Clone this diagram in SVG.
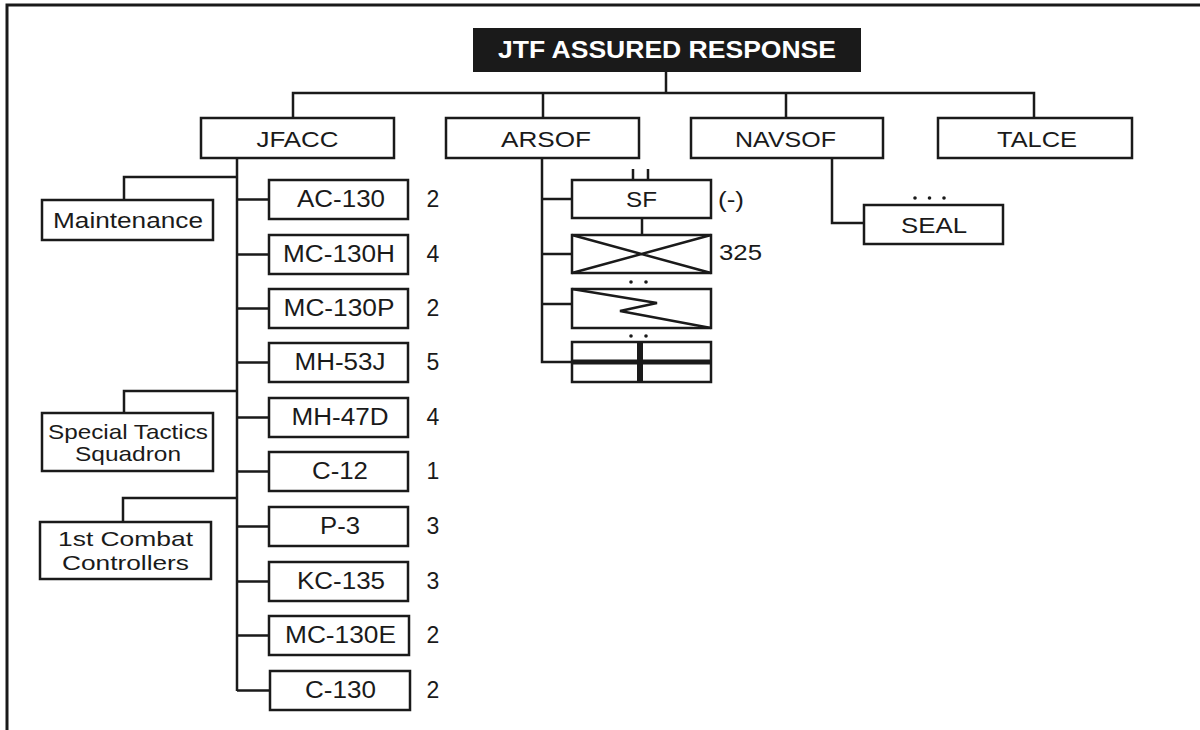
<svg xmlns="http://www.w3.org/2000/svg" width="1200" height="730" viewBox="0 0 1200 730">
<style>
.bx{fill:#fff;stroke:#1a1a1a;stroke-width:2.5}
.ln{fill:none;stroke:#1a1a1a;stroke-width:2.5}
.t{font-family:"Liberation Sans",Arial,sans-serif;font-size:22px;fill:#1a1a1a;text-anchor:middle}
.r{font-family:"Liberation Sans",Arial,sans-serif;font-size:23px;fill:#1a1a1a;text-anchor:middle}
.s{font-family:"Liberation Sans",Arial,sans-serif;font-size:21px;fill:#1a1a1a;text-anchor:middle}
.hd{font-family:"Liberation Sans",Arial,sans-serif;font-size:23px;font-weight:bold;fill:#fff;text-anchor:middle}
.dot{fill:#1a1a1a}
</style>
<rect width="1200" height="730" fill="#fff"/>
<path d="M7,730 V5 H1200" fill="none" stroke="#1a1a1a" stroke-width="3"/>

<g id="connectors">
<path class="ln" d="M666,71 V93 M293,118 V93 H1034 V118 M543,93 V118 M786,93 V118"/>
<path class="ln" d="M237,158 V691"/>
<path class="ln" d="M237,177 H124 V200 M237,391 H124 V413 M237,498 H123 V522"/>
<path class="ln" d="M237,199.5 H269 M237,254.5 H269 M237,308.5 H269 M237,362.5 H269 M237,417.5 H269 M237,471.5 H269 M237,526.5 H269 M237,581.5 H269 M237,635.5 H269 M237,690.5 H269"/>
<path class="ln" d="M542,158 V362 H572 M542,199 H572 M542,254 H572 M542,304 H572"/>
<path class="ln" d="M642,218 V235"/>
<path class="ln" d="M832,158 V223 H864"/>
</g>

<g id="jtf">
<rect x="474" y="29" width="386" height="42" fill="#1a1a1a" stroke="#1a1a1a" stroke-width="2"/>
<text class="hd" x="667" y="58" textLength="338" lengthAdjust="spacingAndGlyphs">JTF ASSURED RESPONSE</text>
</g>
<g id="jfacc"><rect class="bx" x="201" y="118" width="193" height="40"/><text class="t" x="297.5" y="147" textLength="82" lengthAdjust="spacingAndGlyphs">JFACC</text></g>
<g id="arsof"><rect class="bx" x="446" y="118" width="193" height="40"/><text class="t" x="546" y="147" textLength="90" lengthAdjust="spacingAndGlyphs">ARSOF</text></g>
<g id="navsof"><rect class="bx" x="691" y="118" width="192" height="40"/><text class="t" x="785.5" y="147" textLength="101" lengthAdjust="spacingAndGlyphs">NAVSOF</text></g>
<g id="talce"><rect class="bx" x="938" y="118" width="194" height="40"/><text class="t" x="1037" y="147" textLength="80" lengthAdjust="spacingAndGlyphs">TALCE</text></g>

<g id="maintenance"><rect class="bx" x="42" y="200" width="171" height="40"/><text class="t" x="128" y="228" textLength="150" lengthAdjust="spacingAndGlyphs">Maintenance</text></g>
<g id="sts"><rect class="bx" x="42" y="413" width="171" height="58"/><text class="s" x="128" y="439" textLength="160" lengthAdjust="spacingAndGlyphs">Special Tactics</text><text class="s" x="128" y="461" textLength="106" lengthAdjust="spacingAndGlyphs">Squadron</text></g>
<g id="cc"><rect class="bx" x="40" y="522" width="171" height="57"/><text class="s" x="125.5" y="546" textLength="135" lengthAdjust="spacingAndGlyphs">1st Combat</text><text class="s" x="125.5" y="570" textLength="127" lengthAdjust="spacingAndGlyphs">Controllers</text></g>

<g id="ac130"><rect class="bx" x="269" y="180" width="139" height="39"/><text class="r" x="341" y="207" textLength="88" lengthAdjust="spacingAndGlyphs">AC-130</text><text class="r" x="433" y="207">2</text></g>
<g id="mc130h"><rect class="bx" x="269" y="235" width="139" height="39"/><text class="r" x="339" y="262" textLength="112" lengthAdjust="spacingAndGlyphs">MC-130H</text><text class="r" x="433" y="262">4</text></g>
<g id="mc130p"><rect class="bx" x="269" y="289" width="139" height="39"/><text class="r" x="339" y="316" textLength="111" lengthAdjust="spacingAndGlyphs">MC-130P</text><text class="r" x="433" y="316">2</text></g>
<g id="mh53j"><rect class="bx" x="269" y="343" width="139" height="39"/><text class="r" x="340" y="370" textLength="91" lengthAdjust="spacingAndGlyphs">MH-53J</text><text class="r" x="433" y="370">5</text></g>
<g id="mh47d"><rect class="bx" x="269" y="398" width="139" height="39"/><text class="r" x="340" y="425" textLength="97" lengthAdjust="spacingAndGlyphs">MH-47D</text><text class="r" x="433" y="425">4</text></g>
<g id="c12"><rect class="bx" x="269" y="452" width="139" height="39"/><text class="r" x="340" y="479" textLength="56" lengthAdjust="spacingAndGlyphs">C-12</text><text class="r" x="433" y="479">1</text></g>
<g id="p3"><rect class="bx" x="269" y="507" width="139" height="39"/><text class="r" x="340" y="534" textLength="40" lengthAdjust="spacingAndGlyphs">P-3</text><text class="r" x="433" y="534">3</text></g>
<g id="kc135"><rect class="bx" x="269" y="562" width="139" height="39"/><text class="r" x="341" y="589" textLength="88" lengthAdjust="spacingAndGlyphs">KC-135</text><text class="r" x="433" y="589">3</text></g>
<g id="mc130e"><rect class="bx" x="269" y="616" width="140" height="39"/><text class="r" x="340.5" y="643" textLength="111" lengthAdjust="spacingAndGlyphs">MC-130E</text><text class="r" x="433" y="643">2</text></g>
<g id="c130"><rect class="bx" x="270" y="671" width="140" height="39"/><text class="r" x="340.5" y="698" textLength="71" lengthAdjust="spacingAndGlyphs">C-130</text><text class="r" x="433" y="698">2</text></g>

<g id="sf">
<path class="ln" d="M633,169 V180 M648,169 V180"/>
<rect class="bx" x="572" y="180" width="139" height="38"/>
<text class="t" x="641.5" y="207" textLength="31" lengthAdjust="spacingAndGlyphs">SF</text>
<text class="t" x="731" y="207" textLength="26" lengthAdjust="spacingAndGlyphs">(-)</text>
</g>
<g id="inf325">
<rect class="bx" x="572" y="235" width="139" height="38"/>
<path class="ln" d="M572,235 L711,273 M711,235 L572,273"/>
<text class="t" x="740.5" y="260" textLength="43" lengthAdjust="spacingAndGlyphs">325</text>
</g>
<g id="aviation">
<circle class="dot" cx="631" cy="282" r="1.8"/><circle class="dot" cx="646" cy="282" r="1.8"/>
<rect class="bx" x="572" y="289" width="139" height="39"/>
<path class="ln" d="M572,289 L657,303 L620,311 L711,328"/>
</g>
<g id="support">
<circle class="dot" cx="631" cy="336" r="1.8"/><circle class="dot" cx="646" cy="336" r="1.8"/>
<rect class="bx" x="572" y="342" width="139" height="40"/>
<path d="M572,362 H711" stroke="#1a1a1a" stroke-width="5"/>
<path d="M640,342 V382" stroke="#1a1a1a" stroke-width="6"/>
</g>

<g id="seal">
<circle class="dot" cx="915" cy="198" r="1.8"/><circle class="dot" cx="929.5" cy="198" r="1.8"/><circle class="dot" cx="944" cy="198" r="1.8"/>
<rect class="bx" x="864" y="205" width="139" height="39"/>
<text class="t" x="934" y="233" textLength="66" lengthAdjust="spacingAndGlyphs">SEAL</text>
</g>
</svg>
